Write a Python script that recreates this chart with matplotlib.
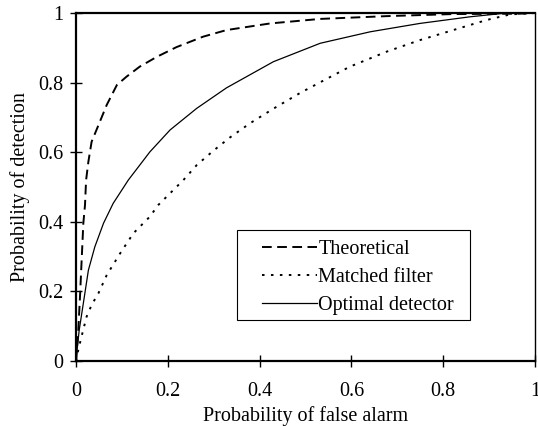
import matplotlib.pyplot as plt
from matplotlib.patches import Rectangle

plt.rcParams['font.family'] = ['Liberation Serif', 'DejaVu Serif']

# ROC curves
theo_x = [0, 0.005, 0.0087, 0.012, 0.016, 0.0196, 0.022, 0.027, 0.034, 0.049, 0.067, 0.089,
          0.110, 0.139, 0.176, 0.219, 0.277, 0.328, 0.423, 0.532, 0.677, 0.822, 0.965, 1.0]
theo_y = [0, 0.089, 0.185, 0.281, 0.396, 0.448, 0.520, 0.573, 0.630, 0.678, 0.736, 0.793,
          0.817, 0.846, 0.874, 0.902, 0.932, 0.951, 0.970, 0.983, 0.991, 0.997, 0.998, 1.0]

mf_x = [0, 0.005, 0.012, 0.023, 0.034, 0.049, 0.067, 0.096, 0.125, 0.161, 0.179, 0.205,
        0.234, 0.263, 0.300, 0.335, 0.379, 0.430, 0.488, 0.545, 0.597, 0.677, 0.749,
        0.822, 0.895, 0.946, 1.0]
mf_y = [0, 0.032, 0.070, 0.127, 0.161, 0.195, 0.247, 0.309, 0.367, 0.415, 0.448, 0.482,
        0.520, 0.563, 0.605, 0.642, 0.683, 0.725, 0.770, 0.810, 0.846, 0.889, 0.922,
        0.951, 0.980, 0.996, 1.0]

opt_x = [0, 0.003, 0.007, 0.016, 0.027, 0.041, 0.060, 0.081, 0.114, 0.161, 0.205, 0.263,
         0.328, 0.430, 0.532, 0.641, 0.749, 0.858, 0.931, 1.0]
opt_y = [0, 0.04, 0.089, 0.166, 0.261, 0.328, 0.396, 0.453, 0.520, 0.601, 0.664, 0.726,
         0.785, 0.860, 0.913, 0.946, 0.970, 0.989, 0.999, 1.0]

ticks = [0, 0.2, 0.4, 0.6, 0.8, 1]
tick_labels = ['0', '0.2', '0.4', '0.6', '0.8', '1']

fig = plt.figure(figsize=(5.38, 4.26), dpi=100)
ax = fig.add_axes([76 / 538, 65 / 426, 459 / 538, 348 / 426])

ax.plot(theo_x, theo_y, color='black', lw=1.4, ls=(0, (5, 2.8)), label='Theoretical')
ax.plot(mf_x, mf_y, color='black', lw=1.4, ls=(0, (1.3, 3.3)), label='Matched filter')
ax.plot(opt_x, opt_y, color='black', lw=0.9, ls='-', label='Optimal detector')

ax.set_xlim(0, 1)
ax.set_ylim(0, 1)
ax.set_xticks(ticks)
ax.set_xticklabels(tick_labels)
ax.set_yticks(ticks)
ax.set_yticklabels(tick_labels)
ax.tick_params(direction='inout', length=8, width=1, labelsize=14.5)
ax.tick_params(axis='x', pad=11)
ax.tick_params(axis='y', pad=5)

for s in ['left', 'bottom', 'top']:
    ax.spines[s].set_linewidth(1.6)
ax.spines['right'].set_linewidth(1.0)

ax.set_xlabel('Probability of false alarm', fontsize=14.5, labelpad=4)
ax.set_ylabel('Probability of detection', fontsize=14.5, labelpad=6)

# legend frame drawn separately so the inner spacing matches
ax.add_patch(Rectangle((0.351, 0.118), 0.508, 0.258, transform=ax.transAxes,
                       fill=False, edgecolor='black', lw=0.8, zorder=5))
ax.legend(loc='upper left', bbox_to_anchor=(0.405, 0.348), frameon=False,
          fontsize=14.5, handlelength=2.75, handletextpad=0.05, borderpad=0,
          labelspacing=0.45, borderaxespad=0)

fig.savefig('out.png', dpi=100)
